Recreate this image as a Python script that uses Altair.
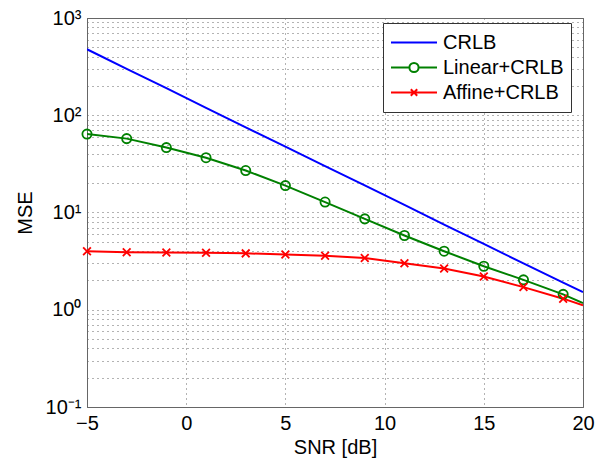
import altair as alt
import pandas as pd

snr = [-5, -3, -1, 1, 3, 5, 7, 9, 11, 13, 15, 17, 19, 20]
crlb = [477, 300, 190, 119, 75, 47.5, 30, 19, 12, 7.5, 4.75, 3.0, 1.9, 1.52]
linear = [64, 57.5, 46.5, 36.6, 27, 18.9, 12.8, 8.6, 5.8, 4.0, 2.8, 2.03, 1.44, 1.17]
affine = [4.0, 3.9, 3.87, 3.85, 3.8, 3.7, 3.6, 3.4, 3.0, 2.65, 2.2, 1.71, 1.30, 1.11]
series = ["CRLB", "Linear+CRLB", "Affine+CRLB"]
colors = ["#0000ff", "#008000", "#ff0000"]
x_ticks = [-5, 0, 5, 10, 15, 20]
y_decades = [0.1, 1, 10, 100, 1000]
y_labels = ["10⁻¹", "10⁰", "10¹", "10²", "10³"]

rows = []
for name, vals in zip(series, [crlb, linear, affine]):
    for s, v in zip(snr, vals):
        rows.append({"snr": s, "mse": v, "series": name})
df = pd.DataFrame(rows)

y_grid = [m * 10 ** e for e in range(-1, 3) for m in range(1, 10)] + [1000]
label_expr = " : ".join(
    f"datum.value == {v} ? '{l}'" for v, l in zip(y_decades, y_labels)
) + " : ''"

FONT = "Liberation Sans"

x_enc = alt.X(
    "snr:Q",
    scale=alt.Scale(domain=[-5, 20], nice=False, zero=False, padding=0),
    axis=alt.Axis(values=x_ticks, title="SNR [dB]", labelFontSize=20,
                  titleFontSize=20, titleFontWeight="normal", labelFont=FONT,
                  titleFont=FONT, grid=True, gridDash=[1, 4], gridColor="#666",
                  ticks=False, labelPadding=6, titlePadding=4, domainColor="#666",
                  labelColor="black", titleColor="black", labelFlush=False),
)
y_enc = alt.Y(
    "mse:Q",
    scale=alt.Scale(type="log", domain=[0.1, 1000], nice=False, padding=0),
    axis=alt.Axis(values=y_grid, labelExpr=label_expr, title="MSE",
                  labelFontSize=20, titleFontSize=20, titleFontWeight="normal",
                  labelFont=FONT, titleFont=FONT, grid=True, gridDash=[1, 4],
                  gridColor="#666", ticks=False, labelPadding=6, titlePadding=10,
                  domainColor="#666", labelColor="black", titleColor="black",
                  labelOverlap=False, labelFlush=False),
)

layers = []
for name, col in zip(series, colors):
    layers.append(
        alt.Chart(df).transform_filter(alt.datum.series == name)
        .mark_line(strokeWidth=2, clip=True, color=col)
        .encode(x=x_enc, y=y_enc)
    )

markers_lin = alt.Chart(df).transform_filter(
    "datum.series == 'Linear+CRLB' && datum.snr < 20"
).mark_point(shape="circle", filled=False, size=85, strokeWidth=1.8,
             color=colors[1], opacity=1).encode(x="snr:Q", y="mse:Q")

markers_aff = alt.Chart(df).transform_filter(
    "datum.series == 'Affine+CRLB' && datum.snr < 20"
).mark_point(shape="M-1,-1L1,1M-1,1L1,-1", filled=False, size=60,
             strokeWidth=1.8, color=colors[2], opacity=1).encode(x="snr:Q", y="mse:Q")

legend_paths = [
    "M-1,0L1,0",
    "M-1,0L-0.2,0M0.2,0L1,0M0.2,0A0.2,0.2 0 1,1 -0.2,0A0.2,0.2 0 1,1 0.2,0",
    "M-1,0L1,0M-0.14,-0.14L0.14,0.14M-0.14,0.14L0.14,-0.14",
]
legend_df = pd.DataFrame({"series": series, "snr": [0, 0, 0], "mse": [1, 1, 1]})
leg = alt.Legend(
    title=None, orient="none", legendX=296, legendY=5,
    fillColor="white", strokeColor="#333", padding=7,
    labelFontSize=20, labelFont=FONT, labelColor="black",
    symbolSize=2116, symbolStrokeWidth=2, symbolOpacity=1,
    clipHeight=25, rowPadding=0, labelOffset=5,
)
legend_layer = alt.Chart(legend_df).mark_point(filled=False, opacity=0).encode(
    x="snr:Q", y="mse:Q",
    color=alt.Color("series:N", scale=alt.Scale(domain=series, range=colors), legend=leg),
    shape=alt.Shape("series:N", scale=alt.Scale(domain=series, range=legend_paths), legend=leg),
)

chart = alt.layer(*layers, markers_lin, markers_aff, legend_layer).properties(
    width=496, height=389,
    padding={"left": 87, "top": 18, "right": 32, "bottom": 56},
    autosize=alt.AutoSizeParams(type="none"),
    background="white",
).configure_view(stroke="#666", strokeWidth=1)

chart.save("out.html", embed_options={"renderer": "svg", "actions": False})
